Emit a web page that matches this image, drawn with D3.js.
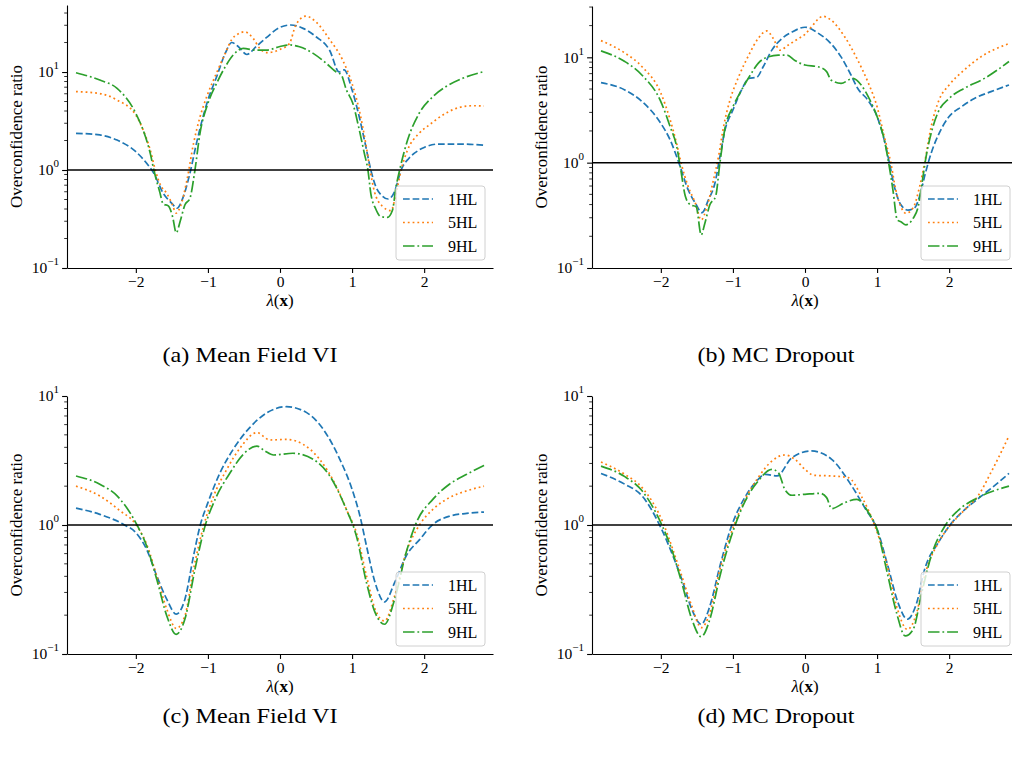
<!DOCTYPE html>
<html>
<head>
<meta charset="utf-8">
<script src="https://cdn.jsdelivr.net/npm/d3@7"></script>
<style>
  body { margin: 0; background: #fff; }
  svg { display: block; }
  svg text { font-family: "Liberation Serif", "Times New Roman", serif; }
</style>
</head>
<body>
<script>
// tick labels and series names
const lambdaTicks = [-2, -1, 0, 1, 2];
const ratioTicks = [0.1, 1, 10];
const seriesNames = ["1HL", "5HL", "9HL"];
const captions = ["(a) Mean Field VI", "(b) MC Dropout", "(c) Mean Field VI", "(d) MC Dropout"];

// [lambda(x), overconfidence ratio]
// (a) Mean Field VI, top row
const mfviA1 = [[-2.83,2.37],[-2.5,2.28],[-2.26,2.02],[-2.0,1.54],[-1.85,1.17],[-1.75,0.925],[-1.62,0.578],[-1.5,0.457],[-1.43,0.407],[-1.34,0.537],[-1.25,0.925],[-1.16,1.86],[-1.0,5.18],[-0.88,8.91],[-0.76,15.5],[-0.67,20.0],[-0.58,18.2],[-0.46,15.1],[-0.33,18.2],[-0.19,22.4],[0,28.6],[0.15,30.2],[0.32,27.9],[0.5,22.9],[0.69,16.6],[0.82,10.0],[0.89,10.5],[1.0,6.55],[1.1,3.47],[1.19,1.74],[1.26,1.0],[1.33,0.676],[1.42,0.543],[1.5,0.506],[1.59,0.603],[1.68,1.0],[1.79,1.32],[1.93,1.6],[2.0,1.70],[2.2,1.84],[2.5,1.84],[2.83,1.79]];
const mfviA5 = [[-2.83,6.31],[-2.5,6.03],[-2.26,5.18],[-2.0,3.63],[-1.9,2.57],[-1.8,1.60],[-1.73,1.0],[-1.66,0.708],[-1.57,0.575],[-1.5,0.457],[-1.44,0.363],[-1.38,0.427],[-1.29,0.794],[-1.2,1.86],[-1.11,3.47],[-1.0,6.03],[-0.88,9.77],[-0.76,15.5],[-0.67,21.4],[-0.58,24.5],[-0.49,25.7],[-0.37,21.9],[-0.28,17.4],[-0.19,15.8],[-0.07,16.2],[0,17.0],[0.13,19.5],[0.22,30.2],[0.36,37.2],[0.5,32.4],[0.69,21.4],[0.87,13.2],[1.0,7.59],[1.1,4.07],[1.19,1.86],[1.25,1.0],[1.31,0.603],[1.42,0.427],[1.54,0.385],[1.61,0.575],[1.68,1.0],[1.77,1.60],[1.93,2.37],[2.07,2.88],[2.3,3.80],[2.5,4.37],[2.67,4.53],[2.83,4.50]];
const mfviA9 = [[-2.83,9.84],[-2.5,8.28],[-2.26,6.81],[-2.0,3.78],[-1.9,2.57],[-1.8,1.48],[-1.75,1.0],[-1.67,0.603],[-1.62,0.45],[-1.55,0.43],[-1.49,0.334],[-1.44,0.229],[-1.38,0.309],[-1.32,0.44],[-1.25,0.513],[-1.18,1.0],[-1.11,2.37],[-1.0,4.79],[-0.88,7.66],[-0.76,11.3],[-0.65,14.9],[-0.51,17.4],[-0.33,16.7],[-0.19,16.7],[0,18.2],[0.13,18.9],[0.27,18.1],[0.46,15.5],[0.64,12.3],[0.78,10.0],[0.85,9.33],[0.92,6.61],[1.01,4.79],[1.1,2.57],[1.17,1.48],[1.22,1.0],[1.26,0.575],[1.33,0.398],[1.4,0.334],[1.49,0.329],[1.56,0.389],[1.61,0.676],[1.66,1.0],[1.77,2.02],[1.93,3.78],[2.12,5.60],[2.3,7.08],[2.53,8.61],[2.83,10.1]];
// (b) MC Dropout, top row
const dropB1 = [[-2.83,5.75],[-2.5,4.90],[-2.26,3.80],[-2.0,2.36],[-1.87,1.64],[-1.75,1.0],[-1.62,0.55],[-1.52,0.411],[-1.43,0.335],[-1.34,0.443],[-1.25,0.637],[-1.18,1.14],[-1.11,2.04],[-1.0,3.16],[-0.88,4.90],[-0.78,6.31],[-0.67,6.46],[-0.58,8.13],[-0.46,11.7],[-0.32,15.1],[-0.18,17.4],[0,19.3],[0.18,17.0],[0.36,13.5],[0.5,10.1],[0.64,6.76],[0.73,5.08],[0.87,3.94],[1.0,2.74],[1.1,1.64],[1.17,1.0],[1.24,0.592],[1.33,0.398],[1.43,0.355],[1.52,0.372],[1.59,0.479],[1.67,0.794],[1.75,1.23],[1.84,1.77],[2.0,2.74],[2.17,3.39],[2.35,4.07],[2.58,4.72],[2.83,5.46]];
const dropB5 = [[-2.83,14.4],[-2.5,11.0],[-2.26,8.13],[-2.0,4.57],[-1.87,2.54],[-1.78,1.51],[-1.72,1.0],[-1.62,0.592],[-1.52,0.411],[-1.44,0.286],[-1.36,0.382],[-1.27,0.684],[-1.2,1.14],[-1.13,2.19],[-1.04,3.94],[-0.92,6.55],[-0.78,10.5],[-0.65,15.1],[-0.53,17.8],[-0.44,15.1],[-0.35,11.7],[-0.23,13.1],[-0.09,15.1],[0,16.5],[0.09,19.5],[0.25,24.5],[0.36,22.6],[0.55,15.7],[0.73,9.44],[0.87,5.89],[1.0,3.39],[1.1,1.77],[1.19,1.0],[1.26,0.55],[1.33,0.382],[1.4,0.331],[1.5,0.372],[1.59,0.592],[1.66,1.0],[1.75,2.19],[1.86,3.94],[2.0,5.46],[2.21,7.59],[2.44,10.1],[2.83,13.5]];
const dropB9 = [[-2.83,11.5],[-2.5,9.12],[-2.26,6.76],[-2.0,3.80],[-1.87,2.19],[-1.78,1.42],[-1.73,0.916],[-1.66,0.479],[-1.59,0.398],[-1.51,0.382],[-1.44,0.206],[-1.39,0.265],[-1.32,0.398],[-1.24,0.479],[-1.18,1.0],[-1.11,2.12],[-1.0,3.39],[-0.88,4.90],[-0.76,6.76],[-0.65,8.77],[-0.51,10.1],[-0.37,10.5],[-0.25,10.5],[-0.14,9.33],[0,8.45],[0.18,8.13],[0.3,7.31],[0.36,6.10],[0.5,5.66],[0.665,6.31],[0.78,5.46],[0.9,3.94],[1.0,2.74],[1.1,1.64],[1.16,1.0],[1.22,0.55],[1.28,0.286],[1.33,0.275],[1.4,0.257],[1.5,0.296],[1.57,0.382],[1.63,0.684],[1.68,1.14],[1.75,1.90],[1.84,2.94],[2.0,4.07],[2.21,5.08],[2.49,6.31],[2.83,9.12]];
// (c) Mean Field VI, bottom row
const mfviC1 = [[-2.83,1.35],[-2.5,1.21],[-2.17,1.01],[-2.0,0.873],[-1.85,0.647],[-1.71,0.403],[-1.57,0.265],[-1.44,0.204],[-1.32,0.265],[-1.2,0.575],[-1.11,0.98],[-1.0,1.49],[-0.83,2.55],[-0.65,3.86],[-0.42,5.69],[-0.18,7.43],[0.09,8.26],[0.37,7.43],[0.6,5.52],[0.83,3.23],[1.0,1.89],[1.11,1.17],[1.2,0.687],[1.32,0.357],[1.45,0.253],[1.59,0.357],[1.75,0.575],[1.94,0.774],[2.12,1.01],[2.35,1.17],[2.59,1.23],[2.83,1.26]];
const mfviC5 = [[-2.83,2.0],[-2.5,1.68],[-2.22,1.29],[-2.0,1.01],[-1.85,0.708],[-1.71,0.403],[-1.57,0.222],[-1.44,0.158],[-1.32,0.197],[-1.2,0.453],[-1.06,0.98],[-0.92,1.68],[-0.74,2.69],[-0.55,3.98],[-0.32,5.2],[-0.14,4.56],[0.09,4.61],[0.32,4.22],[0.55,3.23],[0.78,2.0],[0.94,1.25],[1.06,0.873],[1.2,0.403],[1.32,0.222],[1.45,0.18],[1.59,0.282],[1.75,0.611],[1.94,1.01],[2.12,1.32],[2.35,1.63],[2.59,1.84],[2.83,2.0]];
const mfviC9 = [[-2.83,2.40],[-2.5,2.07],[-2.26,1.68],[-2.0,1.04],[-1.85,0.687],[-1.71,0.38],[-1.57,0.197],[-1.44,0.142],[-1.32,0.186],[-1.18,0.453],[-1.04,0.98],[-0.9,1.58],[-0.69,2.55],[-0.51,3.53],[-0.32,4.09],[-0.21,3.75],[-0.09,3.49],[0.18,3.60],[0.46,3.23],[0.69,2.40],[0.92,1.32],[1.06,0.822],[1.2,0.357],[1.32,0.209],[1.45,0.17],[1.59,0.265],[1.75,0.611],[1.89,1.04],[2.12,1.58],[2.35,2.07],[2.59,2.47],[2.83,2.90]];
// (d) MC Dropout, bottom row
const dropD1 = [[-2.83,2.51],[-2.5,2.07],[-2.26,1.68],[-2.0,0.955],[-1.85,0.611],[-1.71,0.38],[-1.57,0.222],[-1.44,0.17],[-1.32,0.235],[-1.18,0.481],[-1.02,0.98],[-0.85,1.58],[-0.69,2.13],[-0.55,2.47],[-0.39,2.40],[-0.18,3.33],[0.09,3.75],[0.37,3.23],[0.65,2.0],[0.83,1.36],[1.0,0.925],[1.15,0.481],[1.29,0.25],[1.42,0.186],[1.55,0.25],[1.66,0.453],[1.85,0.73],[2.0,0.98],[2.22,1.32],[2.45,1.68],[2.68,2.13],[2.83,2.51]];
const dropD5 = [[-2.83,3.08],[-2.5,2.47],[-2.26,1.95],[-1.96,1.01],[-1.85,0.687],[-1.71,0.403],[-1.57,0.235],[-1.44,0.16],[-1.32,0.209],[-1.18,0.453],[-0.99,0.98],[-0.83,1.58],[-0.65,2.33],[-0.46,3.13],[-0.28,3.49],[-0.14,3.23],[0,2.70],[0.12,2.43],[0.37,2.40],[0.6,2.33],[0.78,1.68],[0.97,0.98],[1.13,0.51],[1.27,0.235],[1.42,0.155],[1.55,0.209],[1.66,0.403],[1.85,0.73],[1.99,0.955],[2.22,1.32],[2.4,1.68],[2.59,2.62],[2.83,4.90]];
const dropD9 = [[-2.83,2.86],[-2.5,2.37],[-2.26,1.84],[-2.0,1.04],[-1.85,0.647],[-1.71,0.357],[-1.57,0.186],[-1.44,0.136],[-1.32,0.186],[-1.18,0.403],[-0.99,0.925],[-0.83,1.53],[-0.65,2.19],[-0.46,2.70],[-0.37,2.55],[-0.28,1.89],[-0.18,1.70],[0,1.73],[0.21,1.76],[0.3,1.63],[0.37,1.34],[0.55,1.49],[0.72,1.58],[0.88,1.25],[1.0,0.925],[1.13,0.453],[1.27,0.209],[1.39,0.138],[1.5,0.155],[1.62,0.299],[1.75,0.575],[1.94,0.98],[2.12,1.29],[2.4,1.63],[2.83,2.0]];

// styles
const colors = ["#1f77b4", "#ff7f0e", "#2ca02c"];
const dashes = ["6.7,2.9", "1.8,3", "11.5,2.9,1.8,2.9"];
const serif = "Liberation Serif, Times New Roman, serif";

const W = 1012, H = 759;
const plotW = 426;

const svg = d3.select("body").append("svg")
    .attr("width", W)
    .attr("height", H)
    .attr("font-family", serif);

const panels = [
    { left: 67,  top: 5,   bottom: 268, yMax: 48.3, series: [mfviA1, mfviA5, mfviA9], caption: captions[0], capX: 250, capY: 362, capW: 175 },
    { left: 592, top: 6,   bottom: 268, yMax: 30.7, series: [dropB1, dropB5, dropB9], caption: captions[1], capX: 776, capY: 362, capW: 157 },
    { left: 67,  top: 396, bottom: 654, yMax: 10,   series: [mfviC1, mfviC5, mfviC9], caption: captions[2], capX: 250, capY: 723, capW: 175 },
    { left: 592, top: 396, bottom: 654, yMax: 10,   series: [dropD1, dropD5, dropD9], caption: captions[3], capX: 776, capY: 723, capW: 157 }
];

function drawPanel(p) {
    const g = svg.append("g");
    const right = p.left + plotW;

    const x = d3.scaleLinear().domain([-2.955, 2.955]).range([p.left, right]);
    const y = d3.scaleLog().domain([0.1, p.yMax]).range([p.bottom, p.top]);

    // minor log ticks
    const minor = [];
    for (let e = -1; e <= 1; e++) {
        for (let m = 2; m <= 9; m++) {
            const v = m * Math.pow(10, e);
            if (v <= p.yMax) minor.push(v);
        }
    }
    g.selectAll(".minor").data(minor).join("line")
        .attr("class", "minor")
        .attr("x1", p.left - 2.8).attr("x2", p.left)
        .attr("y1", d => y(d)).attr("y2", d => y(d))
        .attr("stroke", "#000").attr("stroke-width", 0.8);

    // y axis
    const yAxis = g.append("g")
        .attr("transform", `translate(${p.left},0)`)
        .call(d3.axisLeft(y).tickValues(ratioTicks).tickSize(4.9).tickSizeOuter(0).tickFormat(""));
    yAxis.select(".domain").attr("stroke-width", 1.1);
    yAxis.selectAll(".tick line").attr("stroke-width", 1.1);

    ratioTicks.forEach(v => {
        const t = g.append("text")
            .attr("x", p.left - 8)
            .attr("y", y(v) + 5.3)
            .attr("text-anchor", "end")
            .attr("font-family", serif)
            .attr("font-size", 15.5)
            .attr("fill", "#000");
        t.append("tspan").text("10");
        t.append("tspan")
            .attr("dy", -8)
            .attr("font-size", 11)
            .text(String(Math.round(Math.log10(v))).replace("-", "\u2212"));
    });

    // x axis
    const xAxis = g.append("g")
        .attr("transform", `translate(0,${p.bottom})`)
        .call(d3.axisBottom(x).tickValues(lambdaTicks).tickSize(4.9).tickSizeOuter(0).tickPadding(3.5)
            .tickFormat(d => d < 0 ? "\u2212" + Math.abs(d) : String(d)));
    xAxis.attr("font-family", serif);
    xAxis.select(".domain").attr("stroke-width", 1.1);
    xAxis.selectAll(".tick line").attr("stroke-width", 1.1);
    xAxis.selectAll("text")
        .attr("font-size", 15.5)
        .attr("font-family", serif)
        .attr("fill", "#000");

    // series
    const line = d3.line()
        .x(d => x(d[0]))
        .y(d => y(d[1]))
        .curve(d3.curveMonotoneX);

    p.series.forEach((s, i) => {
        g.append("path")
            .datum(s)
            .attr("d", line)
            .attr("fill", "none")
            .attr("stroke", colors[i])
            .attr("stroke-width", 1.7)
            .attr("stroke-dasharray", dashes[i]);
    });

    // reference line at ratio 1
    g.append("line")
        .attr("x1", p.left).attr("x2", right)
        .attr("y1", y(1)).attr("y2", y(1))
        .attr("stroke", "#000")
        .attr("stroke-width", 1.5);

    // axis labels
    const xl = g.append("text")
        .attr("x", p.left + plotW / 2)
        .attr("y", p.bottom + 38)
        .attr("text-anchor", "middle")
        .attr("font-family", serif)
        .attr("font-size", 17);
    xl.append("tspan").attr("font-style", "italic").text("\u03bb");
    xl.append("tspan").text("(");
    xl.append("tspan").attr("font-weight", "bold").text("x");
    xl.append("tspan").text(")");

    g.append("text")
        .attr("transform", `translate(${p.left - 45},${(p.top + p.bottom) / 2}) rotate(-90)`)
        .attr("text-anchor", "middle")
        .attr("font-family", serif)
        .attr("font-size", 16)
        .attr("textLength", 143)
        .attr("lengthAdjust", "spacingAndGlyphs")
        .text("Overconfidence ratio");

    // legend
    const lg = g.append("g").attr("transform", `translate(${right - 8 - 89},${p.bottom - 8 - 74})`);
    lg.append("rect")
        .attr("width", 89).attr("height", 74)
        .attr("rx", 3)
        .attr("fill", "#fff").attr("fill-opacity", 0.8)
        .attr("stroke", "#d0d0d0").attr("stroke-width", 1);
    seriesNames.forEach((name, i) => {
        const ly = 13 + i * 23.5;
        lg.append("line")
            .attr("x1", 7).attr("x2", 37)
            .attr("y1", ly).attr("y2", ly)
            .attr("stroke", colors[i])
            .attr("stroke-width", 1.7)
            .attr("stroke-dasharray", dashes[i]);
        lg.append("text")
            .attr("x", 52).attr("y", ly + 5.5)
            .attr("font-family", serif)
            .attr("font-size", 16)
            .text(name);
    });

    // caption
    svg.append("text")
        .attr("x", p.capX)
        .attr("y", p.capY)
        .attr("text-anchor", "middle")
        .attr("font-family", serif)
        .attr("font-size", 21)
        .attr("textLength", p.capW)
        .attr("lengthAdjust", "spacingAndGlyphs")
        .text(p.caption);
}

panels.forEach(drawPanel);
</script>
</body>
</html>
